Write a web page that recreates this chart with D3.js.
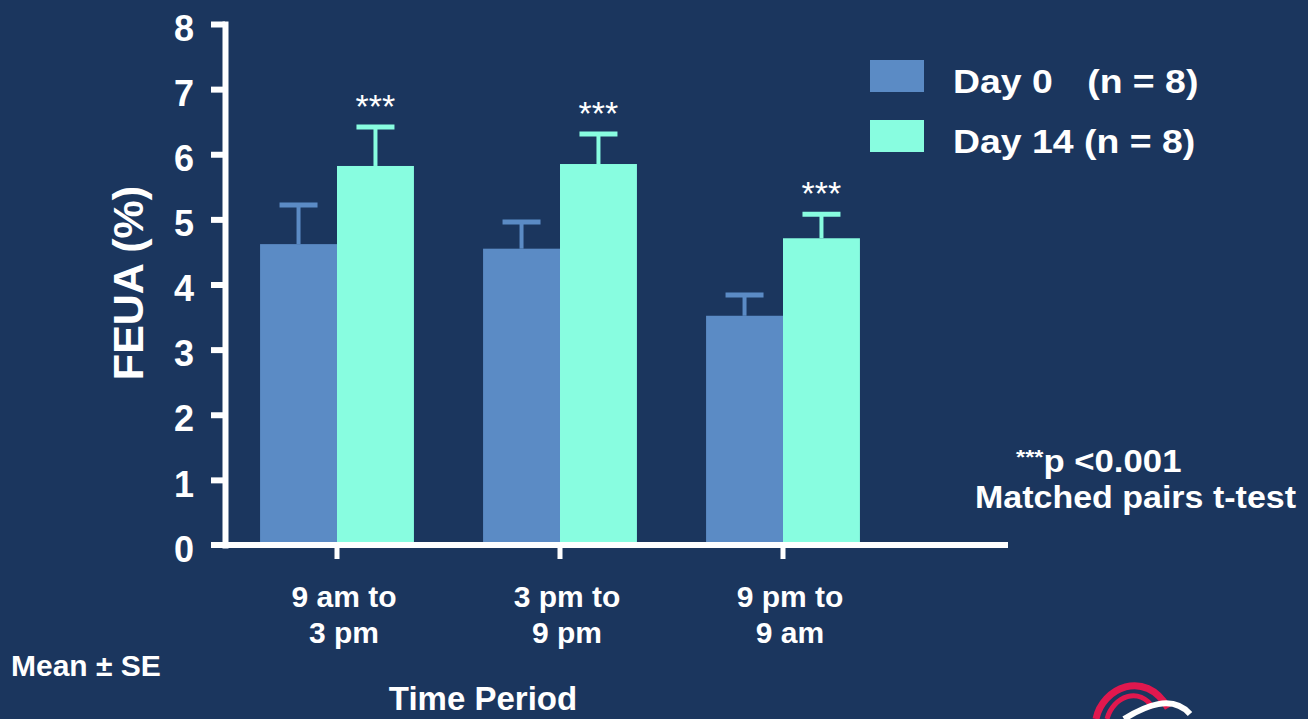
<!DOCTYPE html>
<html>
<head>
<meta charset="utf-8">
<script src="https://cdn.jsdelivr.net/npm/d3@7"></script>
<style>
  html, body { margin: 0; padding: 0; background: #1b365e; }
  svg { display: block; font-family: "Liberation Sans", Arial, sans-serif; font-weight: bold; }
</style>
</head>
<body>
<svg id="chart"></svg>
<script>
// data
const periods = ['9 am to 3 pm', '3 pm to 9 pm', '9 pm to 9 am']
const periodLines = [['9 am to', '3 pm'], ['3 pm to', '9 pm'], ['9 pm to', '9 am']]
const groups = ['Day 0', 'Day 14']
const day0Mean = [4.62, 4.55, 3.52]
const day0SE = [0.60, 0.41, 0.32]
const day14Mean = [5.82, 5.85, 4.71]
const day14SE = [0.60, 0.46, 0.37]
const sigMarks = ['***', '***', '***']
const yTicks = [0, 1, 2, 3, 4, 5, 6, 7, 8]

const width = 1308
const height = 719
const bg = '#1b365e'
const colors = { 'Day 0': '#5b8bc5', 'Day 14': '#88fde0' }

const data = []
periods.forEach((p, i) => {
    data.push({ period: p, group: 'Day 0', mean: day0Mean[i], se: day0SE[i], sig: '' })
    data.push({ period: p, group: 'Day 14', mean: day14Mean[i], se: day14SE[i], sig: sigMarks[i] })
})

const svg = d3.select('#chart')
    .attr('width', width)
    .attr('height', height)

svg.append('rect').attr('width', width).attr('height', height).attr('fill', bg)

const yScale = d3.scaleLinear().domain([0, 8]).range([545, 24])
const xScale = d3.scaleBand().domain(periods).range([225.5, 894.5]).paddingInner(0.31).paddingOuter(0.155)
const xSub = d3.scaleBand().domain(groups).range([0, xScale.bandwidth()])

const axisX = 225

// y axis
const yAxis = d3.axisLeft(yScale).tickValues(yTicks).tickSize(14).tickSizeOuter(0).tickFormat(d3.format('d'))
const gy = svg.append('g')
    .attr('transform', `translate(${axisX},0)`)
    .call(yAxis)
gy.select('.domain').attr('stroke', '#fff').attr('stroke-width', 6).attr('stroke-linecap', 'square')
gy.selectAll('.tick line').attr('stroke', '#fff').attr('stroke-width', 6)
gy.selectAll('.tick text')
    .attr('fill', '#fff')
    .attr('font-size', 36)
    .attr('font-family', '"Liberation Sans", Arial, sans-serif')
    .attr('font-weight', 'bold')
    .attr('x', -31)
    .attr('dy', '0.45em')
gy.selectAll('.tick').filter(d => d === 0).select('line').remove()

// bars
const bars = svg.append('g')
bars.selectAll('rect')
    .data(data)
    .enter()
    .append('rect')
    .attr('x', d => xScale(d.period) + xSub(d.group))
    .attr('y', d => yScale(d.mean))
    .attr('width', xSub.bandwidth())
    .attr('height', d => yScale(0) - yScale(d.mean))
    .attr('fill', d => colors[d.group])

// error bars, upper whisker only
const err = svg.append('g')
err.selectAll('line.stem')
    .data(data)
    .enter()
    .append('line')
    .attr('class', 'stem')
    .attr('x1', d => xScale(d.period) + xSub(d.group) + xSub.bandwidth() / 2)
    .attr('x2', d => xScale(d.period) + xSub(d.group) + xSub.bandwidth() / 2)
    .attr('y1', d => yScale(d.mean))
    .attr('y2', d => yScale(d.mean + d.se))
    .attr('stroke', d => colors[d.group])
    .attr('stroke-width', 4)
err.selectAll('line.cap')
    .data(data)
    .enter()
    .append('line')
    .attr('class', 'cap')
    .attr('x1', d => xScale(d.period) + xSub(d.group) + xSub.bandwidth() / 2 - 19)
    .attr('x2', d => xScale(d.period) + xSub(d.group) + xSub.bandwidth() / 2 + 19)
    .attr('y1', d => yScale(d.mean + d.se))
    .attr('y2', d => yScale(d.mean + d.se))
    .attr('stroke', d => colors[d.group])
    .attr('stroke-width', 5)

// significance stars
svg.append('g').selectAll('text')
    .data(data.filter(d => d.sig))
    .enter()
    .append('text')
    .attr('x', d => xScale(d.period) + xSub(d.group) + xSub.bandwidth() / 2)
    .attr('y', d => yScale(d.mean + d.se) - 9)
    .attr('text-anchor', 'middle')
    .attr('fill', '#fff')
    .attr('font-size', 34)
    .attr('font-weight', 'normal')
    .text(d => d.sig)

// x axis
svg.append('line')
    .attr('x1', axisX - 14).attr('x2', 1008)
    .attr('y1', yScale(0)).attr('y2', yScale(0))
    .attr('stroke', '#fff').attr('stroke-width', 6)

const xAxis = d3.axisBottom(xScale).tickSize(14).tickSizeOuter(0).tickFormat('')
const gx = svg.append('g')
    .attr('transform', `translate(0,${yScale(0)})`)
    .call(xAxis)
gx.select('.domain').remove()
gx.selectAll('.tick line').attr('stroke', '#fff').attr('stroke-width', 5)

const xLabels = svg.append('g')
periods.forEach((p, i) => {
    const cx = xScale(p) + xScale.bandwidth() / 2 + 7
    const t = xLabels.append('text')
        .attr('x', cx)
        .attr('y', 607)
        .attr('text-anchor', 'middle')
        .attr('fill', '#fff')
        .attr('font-size', 30)
    periodLines[i].forEach((line, j) => {
        t.append('tspan')
            .attr('x', cx)
            .attr('dy', j === 0 ? 0 : 36)
            .text(line)
    })
})

// axis titles
svg.append('text')
    .attr('transform', 'translate(143,283) rotate(-90)')
    .attr('text-anchor', 'middle')
    .attr('fill', '#fff')
    .attr('font-size', 43)
    .text('FEUA (%)')

svg.append('text')
    .attr('x', 483)
    .attr('y', 710)
    .attr('text-anchor', 'middle')
    .attr('fill', '#fff')
    .attr('font-size', 33)
    .text('Time Period')

svg.append('text')
    .attr('x', 11)
    .attr('y', 676)
    .attr('fill', '#fff')
    .attr('font-size', 30)
    .text('Mean \u00b1 SE')

// legend
const legend = svg.append('g').attr('transform', 'translate(870,60)')
const legendLabels = [['Day 0', '(n = 8)'], ['Day 14', '(n = 8)']]
groups.forEach((g, i) => {
    const row = legend.append('g').attr('transform', `translate(0,${i * 60})`)
    row.append('rect')
        .attr('width', 54)
        .attr('height', 32)
        .attr('fill', colors[g])
    const t = row.append('text')
        .attr('transform', 'translate(83,33) scale(1.1,1)')
        .attr('fill', '#fff')
        .attr('font-size', 34)
    if (i === 0) {
        t.append('tspan').text(legendLabels[i][0])
        t.append('tspan').attr('x', 122).text(legendLabels[i][1])
    } else {
        t.text(legendLabels[i].join(' '))
    }
})

// test note
const note = svg.append('g')
const n1 = note.append('text')
    .attr('transform', 'translate(1016,472) scale(1.12,1)')
    .attr('fill', '#fff')
    .attr('font-size', 31)
n1.append('tspan').attr('font-size', 21).attr('dy', -8).text('***')
n1.append('tspan').attr('dy', 8).text('p <0.001')
note.append('text')
    .attr('x', 975)
    .attr('y', 508)
    .attr('fill', '#fff')
    .attr('font-size', 32)
    .attr('textLength', 321)
    .attr('lengthAdjust', 'spacingAndGlyphs')
    .text('Matched pairs t-test')

// logo fragment bottom right
const logo = svg.append('g').attr('fill', 'none')
logo.append('path')
    .attr('d', 'M1096,719 C1102,688 1145,668 1168,708')
    .attr('stroke', '#e0184e').attr('stroke-width', 7)
logo.append('path')
    .attr('d', 'M1107,719 C1113,696 1140,686 1153,708')
    .attr('stroke', '#e0184e').attr('stroke-width', 5)
logo.append('path')
    .attr('d', 'M1124,719 C1145,706 1172,694 1190,714')
    .attr('stroke', '#ffffff').attr('stroke-width', 6)
</script>
</body>
</html>
